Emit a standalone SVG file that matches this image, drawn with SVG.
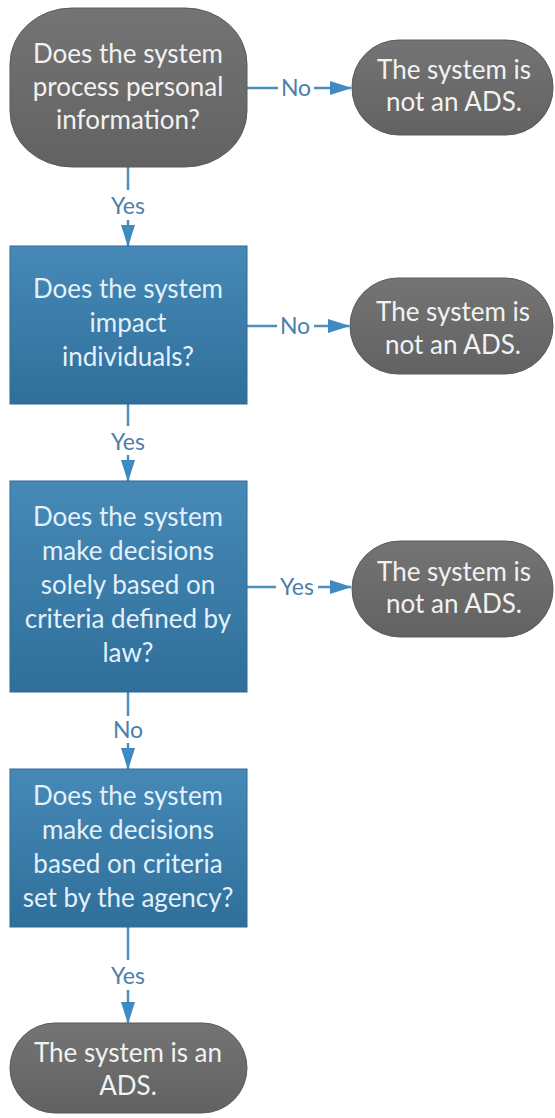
<svg xmlns="http://www.w3.org/2000/svg" width="555" height="1118" viewBox="0 0 555 1118">
<style>
.t{font-family:Lato,"Liberation Sans",sans-serif;font-size:26px;text-anchor:middle}
.tg{fill:#f2f2f2}
.tb{fill:#e2f1fb}
.lab{font-family:Lato,"Liberation Sans",sans-serif;font-size:23px;fill:#4a80ab;text-anchor:middle}
.gray{fill:url(#gg);stroke:#5a5a5a;stroke-width:1}
.blue{fill:url(#bg);stroke:#2e6a93;stroke-width:1}
.c{stroke:#4a8fc0;stroke-width:2.5;fill:none}
</style>
<defs>
<linearGradient id="gg" x1="0" y1="0" x2="0" y2="1">
<stop offset="0" stop-color="#747474"/>
<stop offset="1" stop-color="#626262"/>
</linearGradient>
<linearGradient id="bg" x1="0" y1="0" x2="0" y2="1">
<stop offset="0" stop-color="#4689b7"/>
<stop offset="1" stop-color="#2f6f9a"/>
</linearGradient>
<marker id="ah" markerUnits="userSpaceOnUse" markerWidth="22" markerHeight="14" refX="21" refY="7" orient="auto">
<path d="M0,0 L22,7 L0,14 z" fill="#3f8bc1"/>
</marker>
</defs>

<g id="connectors">
<line class="c" x1="247" y1="88" x2="278" y2="88"/>
<line class="c" x1="314" y1="88" x2="351" y2="88" marker-end="url(#ah)"/>
<line class="c" x1="128" y1="167" x2="128" y2="190"/>
<line class="c" x1="128" y1="220" x2="128" y2="246" marker-end="url(#ah)"/>
<line class="c" x1="247" y1="326" x2="277" y2="326"/>
<line class="c" x1="314" y1="326" x2="349" y2="326" marker-end="url(#ah)"/>
<line class="c" x1="128" y1="404" x2="128" y2="426"/>
<line class="c" x1="128" y1="455" x2="128" y2="481" marker-end="url(#ah)"/>
<line class="c" x1="247" y1="587" x2="276" y2="587"/>
<line class="c" x1="318" y1="587" x2="351" y2="587" marker-end="url(#ah)"/>
<line class="c" x1="128" y1="692" x2="128" y2="716"/>
<line class="c" x1="128" y1="743" x2="128" y2="769" marker-end="url(#ah)"/>
<line class="c" x1="128" y1="927" x2="128" y2="960"/>
<line class="c" x1="128" y1="990" x2="128" y2="1023" marker-end="url(#ah)"/>
<text class="lab" x="296" y="96">No</text>
<text class="lab" x="128" y="214">Yes</text>
<text class="lab" x="295" y="334">No</text>
<text class="lab" x="128" y="450">Yes</text>
<text class="lab" x="297" y="595">Yes</text>
<text class="lab" x="128" y="738">No</text>
<text class="lab" x="128" y="984">Yes</text>
</g>

<g id="q1">
<rect class="gray" x="10" y="8" width="237" height="159" rx="62" ry="56"/>
<text class="t tg" x="128" y="63">Does the system</text>
<text class="t tg" x="128" y="96">process personal</text>
<text class="t tg" x="128" y="129">information?</text>
</g>

<g id="r1">
<rect class="gray" x="352" y="40" width="201" height="95" rx="47" ry="47"/>
<text class="t tg" x="454" y="79">The system is</text>
<text class="t tg" x="454" y="111">not an ADS.</text>
</g>

<g id="q2">
<rect class="blue" x="10" y="246" width="237" height="158"/>
<text class="t tb" x="128" y="298">Does the system</text>
<text class="t tb" x="128" y="332">impact</text>
<text class="t tb" x="128" y="366">individuals?</text>
</g>

<g id="r2">
<rect class="gray" x="350" y="278" width="203" height="96" rx="48" ry="48"/>
<text class="t tg" x="453" y="321">The system is</text>
<text class="t tg" x="453" y="354">not an ADS.</text>
</g>

<g id="q3">
<rect class="blue" x="10" y="481" width="237" height="211"/>
<text class="t tb" x="128" y="526">Does the system</text>
<text class="t tb" x="128" y="560">make decisions</text>
<text class="t tb" x="128" y="594">solely based on</text>
<text class="t tb" x="128" y="628">criteria defined by</text>
<text class="t tb" x="128" y="662">law?</text>
</g>

<g id="r3">
<rect class="gray" x="352" y="541" width="201" height="96" rx="48" ry="48"/>
<text class="t tg" x="454" y="581">The system is</text>
<text class="t tg" x="454" y="613">not an ADS.</text>
</g>

<g id="q4">
<rect class="blue" x="10" y="769" width="237" height="158"/>
<text class="t tb" x="128" y="805">Does the system</text>
<text class="t tb" x="128" y="839">make decisions</text>
<text class="t tb" x="128" y="873">based on criteria</text>
<text class="t tb" x="128" y="907">set by the agency?</text>
</g>

<g id="end">
<rect class="gray" x="10" y="1023" width="237" height="90" rx="45" ry="45"/>
<text class="t tg" x="128" y="1062">The system is an</text>
<text class="t tg" x="128" y="1095">ADS.</text>
</g>
</svg>
